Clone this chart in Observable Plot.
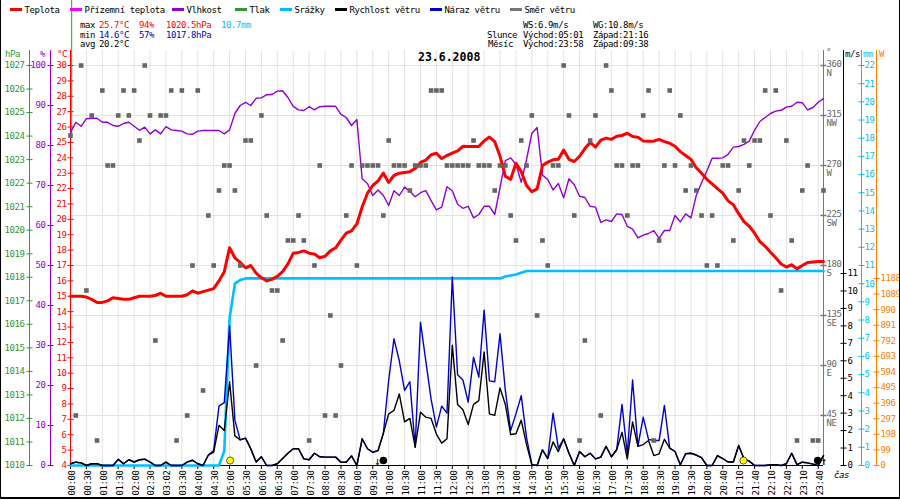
<!DOCTYPE html>
<html><head><meta charset="utf-8">
<script src="https://cdn.jsdelivr.net/npm/d3@7"></script>
<script src="https://cdn.jsdelivr.net/npm/@observablehq/plot@0.6"></script>
<style>
html,body{margin:0;padding:0;background:#fff;}
#wrap{position:relative;width:900px;height:500px;overflow:hidden;font-family:"DejaVu Sans Mono",monospace;font-size:9px;letter-spacing:-0.4px;}
#wrap svg{position:absolute;left:0;top:0;}
.t{position:absolute;white-space:pre;line-height:10px;}
.dash{position:absolute;height:3px;width:12px;}
#frame{position:absolute;left:0;top:0;width:898px;height:497px;border-left:1px solid #000;border-right:1px solid #000;border-bottom:2px solid #000;pointer-events:none;}
</style></head><body><div id="wrap"></div>
<script>
// ---------- DATA ----------
const xLabels = ["00:00","00:30","01:00","01:30","02:00","02:30","03:02","03:30","04:00","04:30","05:00","05:30","06:00","06:30","07:00","07:30","08:00","08:30","09:00","09:30","10:00","10:30","11:00","11:30","12:00","12:30","13:00","13:30","14:00","14:30","15:00","15:30","16:00","16:30","17:00","17:30","18:00","18:30","19:00","19:30","20:00","20:40","21:10","21:40","22:10","22:40","23:10","23:40"];

const temperature = [15.0,15.0,15.0,14.95,14.8,14.6,14.6,14.7,14.9,14.85,
14.8,14.8,14.9,15.0,15.0,15.0,15.05,15.2,15.0,15.0,
15.0,15.0,15.1,15.35,15.2,15.3,15.4,15.5,16.0,16.6,
18.15,17.5,17.2,16.85,17.0,16.5,16.2,16.0,16.1,16.3,
16.6,17.1,17.8,17.85,17.95,17.8,17.75,17.5,17.6,17.95,
18.15,18.65,19.1,19.25,19.7,20.8,21.7,22.2,22.5,23.0,
22.4,22.85,23.0,23.05,23.1,23.3,23.7,23.85,24.2,24.3,
23.95,24.15,24.3,24.45,24.75,24.73,24.73,24.73,25.1,25.35,
25.05,24.1,22.8,22.6,23.65,23.1,22.2,21.8,21.98,23.5,
23.72,23.87,23.9,24.5,23.9,23.76,24.1,24.6,25.0,24.69,
25.15,25.28,25.2,25.4,25.45,25.6,25.38,25.34,25.1,25.08,
25.08,25.2,25.05,24.95,24.75,24.4,24.15,23.9,23.35,23.0,
22.6,22.3,22.0,21.7,21.2,20.95,20.37,19.85,19.55,19.1,
18.55,18.25,17.86,17.5,17.1,16.9,17.05,16.78,17.0,17.2,
17.23,17.26,17.26];

const humidity = [83.3,85.8,84.8,86.7,86.8,86.8,85.8,85.8,85.0,84.8,
85.5,85.8,84.8,83.8,84.6,82.9,83.9,82.9,84.7,83.9,
83.75,83.6,82.9,82.8,83.6,83.75,83.75,83.75,83.75,82.9,
83.9,88.0,90.0,90.8,90.0,91.8,91.9,92.7,92.75,93.6,
93.7,92.0,89.8,88.9,88.75,89.7,88.9,89.7,89.8,89.8,
89.8,87.8,87.0,85.0,86.5,71.7,70.5,67.5,68.9,67.5,
65.0,68.7,67.5,69.6,68.5,67.2,68.2,68.7,66.2,63.9,
64.6,69.7,68.7,65.3,64.3,64.8,61.9,62.75,64.8,64.8,
62.75,69.5,76.2,76.9,75.3,70.8,76.5,83.0,84.5,72.6,
71.5,68.9,70.5,66.9,71.7,70.2,67.3,67.0,64.8,64.6,
60.8,61.4,61.0,62.9,62.75,59.8,59.1,56.9,57.6,58.0,
58.7,56.8,58.75,58.75,62.5,60.9,62.9,61.9,67.5,70.7,
73.6,76.8,76.8,76.9,77.8,79.6,79.75,80.3,81.1,83.8,
86.0,87.0,88.0,88.6,88.8,89.6,89.8,90.8,90.7,88.9,
89.5,90.8,91.7];

const windSpeed = [0.1,0.19,0.15,0,0.1,0.1,0,0,0,0.35,
0.1,0.33,0.2,0.33,0.36,0.2,0,0,0.19,0,
0,0,0.19,0.3,0.1,0,0.6,0.76,2.3,2.0,
4.8,1.7,1.47,1.57,0.96,0.2,0.5,0,0,0.1,
0.4,0.7,0.96,0.96,0.38,0.33,0.7,0.5,0.48,0.48,
0.48,0.19,0.19,0.55,0,1.53,0.96,0.76,0.85,1.85,
2.96,3.15,4.1,2.5,2.7,1.05,3.05,2.77,2.7,1.8,
1.28,1.53,6.9,3.5,3.2,2.35,3.5,3.72,6.5,2.96,
2.87,4.45,3.5,1.78,1.82,2.6,1.2,0.05,0,0.9,
0.4,1.35,0.8,1.53,0.7,0,0.8,0.5,0.7,0.38,
0.48,1.1,0.5,0.9,1.9,0.38,2.5,1.1,1.2,1.43,
0.57,0.67,1.5,1.0,0.8,0.04,0.67,0.7,0.6,0.45,
0,0,0.57,0.4,0.2,0.2,1.15,0.38,0.25,0,
0,0,0.04,0.04,0,0.1,0.7,0.05,0.19,0.15,
0.08,0,0.57];

const windGust = [0.1,0.19,0.15,0,0.1,0.1,0,0,0,0.35,
0.1,0.33,0.2,0.33,0.36,0.2,0,0,0.19,0,
0,0,0.19,0.3,0.1,0,0.6,0.86,3.4,3.6,
8.0,2.6,1.47,1.57,0.96,0.2,0.5,0,0,0.1,
0.4,0.7,0.96,0.96,0.38,0.33,0.7,0.5,0.48,0.48,
0.48,0.19,0.19,0.55,0,1.53,0.96,0.76,0.85,1.85,
4.87,7.26,6.0,4.3,4.8,1.05,8.21,6.0,3.8,2.2,
3.4,3.0,10.8,5.2,4.9,3.63,6.2,5.06,8.9,4.85,
4.8,7.55,4.3,2.0,2.96,4.0,1.6,0.05,0,0.9,
0.4,3.0,1.0,1.53,0.7,0,0.8,0.5,0.7,0.38,
0.48,1.1,0.5,0.9,3.5,0.67,4.9,1.1,2.77,1.5,
1.43,1.43,3.44,1.0,0.8,0.04,0.67,0.7,0.6,0.45,
0,0,0.57,0.4,0.2,0.2,1.15,0.38,0.25,0,
0,0,0.04,0.04,0,0.1,0.7,0.05,0.19,0.15,
0.08,0,0.57];

const windDir = [297,45,360,157.5,315,22.5,337.5,270,270,315,
337.5,315,337.5,292.5,360,315,112.5,315,315,337.5,
22.5,337.5,45,180,337.5,67.5,225,180,247.5,270,
270,247.5,180,292.5,292.5,90,315,225,157.5,157.5,
112.5,202.5,202.5,225,202.5,22.5,180,270,45,135,
45,90,225,270,180,270,270,270,270,225,
292.5,270,270,270,247.5,270,270,270,337.5,337.5,
337.5,270,270,270,270,270,292.5,270,270,270,
247.5,270,270,225,202.5,292.5,270,315,135,202.5,
180,270,270,360,315,225,22.5,112.5,292.5,315,
45,360,337.5,270,270,225,270,270,315,337.5,
22.5,202.5,270,337.5,270,315,247.5,270,247.5,225,
180,225,180,270,270,202.5,247.5,292.5,270,292.5,
292.5,337.5,225,337.5,157.5,292.5,202.5,22.5,247.5,270,
22.5,22.5,247.5];

const rainIdx = [0,28,29,30,31,32,33,81,82,83,84,85,86,142];
const rainVal = [0,0,0.8,8.1,10.0,10.2,10.29,10.29,10.4,10.45,10.5,10.6,10.7,10.7];

const sunIdx = [30.1, 126.9];
const moonDotIdx = [59.0, 140.9];
const moonArrowIdx = [57.8, 142.0];
const moonArrowGlyph = ["↓", "↑"];
const pressureStub = [1023.9, 1029.8];

const hpaTicks = [1010,1011,1012,1013,1014,1015,1016,1017,1018,1019,1020,1021,1022,1023,1024,1025,1026,1027];
const humTicks = [0,10,20,30,40,50,60,70,80,90,100];
const tempTicks = [4,5,6,7,8,9,10,11,12,13,14,15,16,17,18,19,20,21,22,23,24,25,26,27,28,29,30];
const dirTicks = [45,90,135,180,225,270,315,360];
const dirNames = ["NE","E","SE","S","SW","W","NW","N"];
const windTicks = [0,1,2,3,4,5,6,7,8,9,10,11];
const rainTicks = [0,1,2,3,4,5,6,7,8,9,10,11,12,13,14,15,16,17,18,19,20,21,22];
const radTicks = [0,99,198,297,396,495,594,693,792,891,990,1089,1188];

const legendNames = ["Teplota","Přízemní teplota","Vlhkost","Tlak","Srážky","Rychlost větru","Náraz větru","Směr větru"];

// ---------- SCALES (each quantity to a shared 0..1 height) ----------
const sT = d3.scaleLinear().domain([4,30]).range([0,1]);
const sH = d3.scaleLinear().domain([0,100]).range([0,1]);
const sP = d3.scaleLinear().domain([1010,1027]).range([0,1]);
const sD = d3.scaleLinear().domain([0,360]).range([0,1]);
const sW = d3.scaleLinear().domain([0,22.92]).range([0,1]);
const sR = d3.scaleLinear().domain([0,22]).range([0,1]);
const sRad = d3.scaleLinear().domain([0,2541]).range([0,1]);
const TOP = 1.0375;
const LAST = 142;

const C = {red:"#ff0000", mag:"#ff00ff", pur:"#9400d3", grn:"#339933", cyan:"#00bfff", blk:"#000000", blue:"#0000cc", gray:"#777777", orange:"#ff8000", grid:"#e3e3e3"};

// horizontal tick symbol (6px wide)
const hTick = {draw(ctx) { ctx.moveTo(-3, 0); ctx.lineTo(3, 0); }};

function axis(ticks, f, color, xAt, dxLine, dxLabel, anchor) {
  return [
    Plot.ruleX([xAt], {x: d => d, y1: 0, y2: TOP, stroke: color, dx: dxLine}),
    Plot.dot(ticks, {x: () => xAt, y: d => f(d), symbol: hTick, r: 3, fill: "none", stroke: color, strokeWidth: 1, dx: dxLine}),
    Plot.text(ticks, {x: () => xAt, y: d => f(d), text: d => String(d), textAnchor: anchor, dx: dxLabel, fill: color})
  ];
}

const idx = (d, i) => i;
const labelIdx = xLabels.map((d, i) => 3 * i);

const chart = Plot.plot({
  width: 900, height: 500,
  marginLeft: 70, marginRight: 77, marginTop: 65, marginBottom: 35,
  x: {domain: [0, LAST], axis: null},
  y: {domain: [0, 1], axis: null},
  style: {fontFamily: "DejaVu Sans Mono", fontSize: "9px", letterSpacing: "-0.4px", background: "transparent", overflow: "visible"},
  marks: [
    // grid
    Plot.ruleX(labelIdx, {x: d => d, y1: 0, y2: TOP, stroke: C.grid}),
    Plot.ruleY(dirTicks, {y: d => sD(d), x1: 0, x2: LAST, stroke: C.grid}),
    // left axes
    ...axis(hpaTicks, sP, C.grn, 0, -41, -46, "end"),
    ...axis(humTicks, sH, C.pur, 0, -20, -25, "end"),
    ...axis(tempTicks, sT, C.red, 0, 0, -4, "end"),
    Plot.ruleX([0], {x: d => d, y1: sP(pressureStub[0]), y2: sP(pressureStub[1]), stroke: C.grn, dx: 1.2}),
    // right axes
    Plot.ruleX([LAST], {x: d => d, y1: 0, y2: TOP, stroke: C.gray}),
    Plot.dot(dirTicks, {x: () => LAST, y: d => sD(d), symbol: hTick, r: 3, fill: "none", stroke: C.gray}),
    Plot.text(dirTicks, {x: () => LAST, y: d => sD(d), text: (d, i) => d + "\n" + dirNames[i], textAnchor: "start", lineAnchor: "top", dy: -4.5, lineHeight: 1.0, dx: 3, fill: "#666"}),
    ...axis(windTicks, sW, C.blk, LAST, 20, 24, "start"),
    ...axis(rainTicks, sR, C.cyan, LAST, 38, 41, "start"),
    ...axis(radTicks, sRad, C.orange, LAST, 53, 57, "start"),
    // x axis
    Plot.ruleY([0], {y: d => d, x1: 0, x2: LAST, stroke: C.blk}),
    Plot.ruleX(labelIdx, {x: d => d, y1: 0, y2: 0, insetBottom: -4, stroke: C.blk}),
    Plot.text(xLabels, {x: (d, i) => 3 * i, y: () => 0, text: d => d, rotate: -90, textAnchor: "end", dy: 5, dx: 1.5, fill: C.blk}),
    // series
    Plot.line(rainVal, {x: (d, i) => rainIdx[i], y: d => sR(d), stroke: C.cyan, strokeWidth: 2.6}),
    Plot.line(humidity, {x: idx, y: d => sH(d), stroke: C.pur, strokeWidth: 1.4}),
    Plot.line(temperature, {x: idx, y: d => sT(d), stroke: C.red, strokeWidth: 3}),
    Plot.line(windGust, {x: idx, y: d => sW(d), stroke: C.blue, strokeWidth: 1.4}),
    Plot.line(windSpeed, {x: idx, y: d => sW(d), stroke: C.blk, strokeWidth: 1.4}),
    Plot.dot(windDir, {x: idx, y: d => sD(d), symbol: "square", r: 2.6, fill: "#666", stroke: null}),
    // sun & moon
    Plot.dot(sunIdx, {x: d => d, y: () => 0, dy: -5, r: 3.6, fill: "#ffff00", stroke: "#000", strokeWidth: 0.6}),
    Plot.dot(moonDotIdx, {x: d => d, y: () => 0, dy: -5, r: 3.8, fill: "#000"}),
    Plot.text(moonArrowIdx, {x: d => d, y: () => 0, text: (d, i) => moonArrowGlyph[i], dy: -4, fontSize: 11, fill: "#000"})
  ]
});

const wrap = document.getElementById("wrap");
wrap.appendChild(chart);

function addText(str, x, yc, color, extra) {
  const s = document.createElement("div");
  s.className = "t";
  s.textContent = str;
  s.style.left = x + "px";
  s.style.top = (yc - 5) + "px";
  s.style.color = color || "#000";
  if (extra) Object.assign(s.style, extra);
  wrap.appendChild(s);
  return s;
}

// legend
const legendColors = [C.red, C.mag, C.pur, C.grn, C.cyan, C.blk, C.blue, C.gray];
const legendX = [10, 70, 172, 235, 280, 335, 430, 510];
legendNames.forEach((name, i) => {
  const d = document.createElement("div");
  d.className = "dash";
  d.style.left = legendX[i] + "px";
  d.style.top = "8px";
  d.style.background = legendColors[i];
  wrap.appendChild(d);
  addText(name, legendX[i] + 14.5, 9.5);
});

// stats
addText("max", 80, 24.5); addText("25.7°C", 99, 24.5, C.red); addText("94%", 139, 24.5, C.red);
addText("1020.5hPa", 166, 24.5, C.red); addText("10.7mm", 221, 24.5, C.cyan);
addText("min", 80, 34.5); addText("14.6°C", 99, 34.5, C.blue); addText("57%", 139, 34.5, C.blue);
addText("1017.8hPa", 166, 34.5, C.blue);
addText("avg", 80, 44); addText("20.2°C", 99, 44);
addText("WS:6.9m/s", 523, 24.5); addText("WG:10.8m/s", 593, 24.5);
addText("Slunce", 487, 34.5); addText("Východ:05:01", 523, 34.5); addText("Západ:21:16", 593, 34.5);
addText("Měsíc", 488, 44); addText("Východ:23:58", 523, 44); addText("Západ:09:38", 593, 44);

// title
addText("23.6.2008", 418, 56, "#000", {fontWeight: "bold", fontSize: "11.5px", letterSpacing: "0px", lineHeight: "12px"});

// unit labels
addText("hPa", 5, 54, C.grn); addText("%", 40, 54, C.pur); addText("°C", 57, 54, C.red);
addText("°", 826, 52, "#666"); addText("m/s", 845, 54, C.blk); addText("mm", 863, 54, C.cyan); addText("W", 879, 54, C.orange);
addText("čas", 834, 475, C.blk, {fontStyle: "italic"});

const fr = document.createElement("div");
fr.id = "frame";
wrap.appendChild(fr);
</script></body></html>
